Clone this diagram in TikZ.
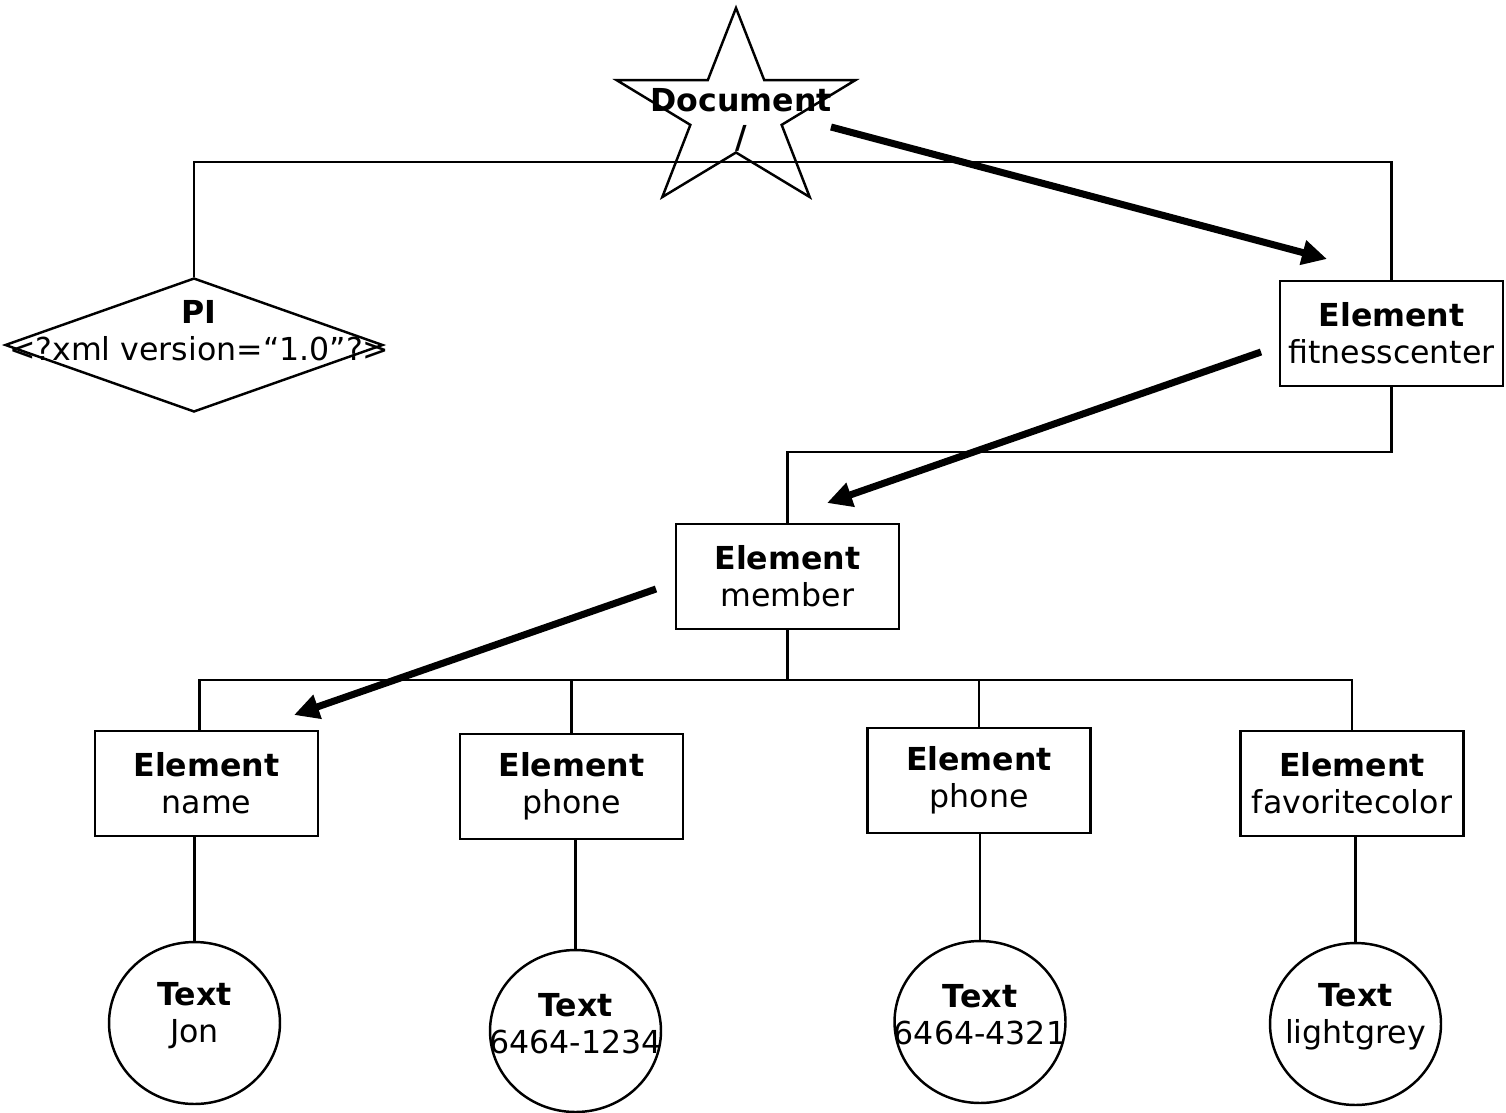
\documentclass[tikz,border=0pt]{standalone}
\usepackage{fontspec}
\setmainfont{DejaVu Sans}
\usetikzlibrary{arrows.meta, shapes.geometric}

\begin{document}
\begin{tikzpicture}
        [
        x=0.02cm, y=-0.02cm,
        font=\fontsize{18}{21}\selectfont,
        line width=1.4pt,
        element/.style={draw, rectangle, fill=white, align=center, minimum width=4.46cm, minimum height=2.1cm, inner sep=0pt},
        textnode/.style={draw, ellipse, fill=white, minimum width=3.42cm, minimum height=3.24cm, inner sep=0pt},
        pinode/.style={draw, diamond, fill=white, minimum width=7.56cm, minimum height=2.68cm, inner sep=0pt},
        caption/.style={align=center, inner sep=0pt},
        arrow/.style={-{Triangle[length=0.5cm, width=0.48cm]}, line width=4pt}
        ]

        \useasboundingbox (0,0) rectangle (1506,1112);

        % root star
        \draw[fill=white, shift={(736,112.5)}, xscale=1.2] (-90:104.5)
            \foreach \a in {0,...,4} { -- ({-54+72*\a}:40) -- ({-18+72*\a}:104.5) } -- cycle;
        \node[caption] (doc) at (741,120) {\textbf{Document}\\\textbf{/}};

        \node[pinode, label={[caption, xshift=3pt, yshift=8pt]center:{\textbf{PI}\\<?xml version=“1.0”?>}}] (pi) at (194,345) {};

        \node[element] (fitness) at (1391.5,333.5) {\textbf{Element}\\fitnesscenter};
        \node[element] (member) at (787.5,576.5) {\textbf{Element}\\member};

        \node[element] (name) at (206.5,783.5) {\textbf{Element}\\name};
        \node[element] (phoneA) at (571.5,786.5) {\textbf{Element}\\phone};
        \node[element] (phoneB) at (979,780.5) {\textbf{Element}\\phone};
        \node[element] (color) at (1352,783.5) {\textbf{Element}\\favoritecolor};

        \node[textnode, label={[caption, yshift=4pt]center:{\textbf{Text}\\Jon}}] (jon) at (194.5,1023) {};
        \node[textnode, label={[caption, yshift=4pt]center:{\textbf{Text}\\6464-1234}}] (numA) at (575.5,1031) {};
        \node[textnode, label={[caption, yshift=4pt]center:{\textbf{Text}\\6464-4321}}] (numB) at (980,1022) {};
        \node[textnode, label={[caption, yshift=4pt]center:{\textbf{Text}\\lightgrey}}] (grey) at (1355.5,1024) {};

        % tree lines
        \coordinate (busA) at (736,162);
        \coordinate (busB) at (1000,452);
        \coordinate (busC) at (786,680);

        \draw (pi.north) -- (pi.north |- busA) -- (fitness.north |- busA) -- (fitness.north);
        \draw (fitness.south) -- (fitness.south |- busB) -- (member.north |- busB) -- (member.north);
        \draw (member.south) -- (member.south |- busC);
        \draw ([xshift=-4pt]name.north) -- ([xshift=-4pt]name.north |- busC) -- (color.north |- busC) -- (color.north);
        \foreach \n in {phoneA, phoneB}
            \draw (\n.north) -- (\n.north |- busC);
        \foreach \e/\t in {name/jon, phoneA/numA, phoneB/numB, color/grey}
            \draw (\t.north) -- (\t.north |- \e.south);

        % path arrows
        \coordinate (arrA1) at (831,127);
        \coordinate (arrA2) at (1327,259);
        \coordinate (arrB1) at (1261,352);
        \coordinate (arrB2) at (827,503);
        \coordinate (arrC1) at (656,589);
        \coordinate (arrC2) at (294,715);

        \draw[arrow] (arrA1) -- (arrA2);
        \draw[arrow] (arrB1) -- (arrB2);
        \draw[arrow] (arrC1) -- (arrC2);

    \end{tikzpicture}
\end{document}
